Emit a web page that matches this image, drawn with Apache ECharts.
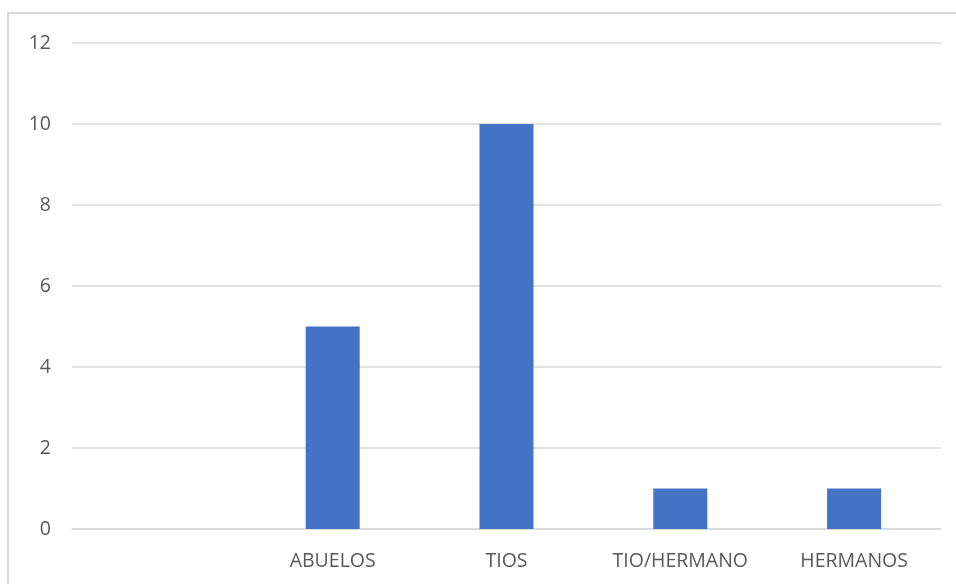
<!DOCTYPE html>
<html>
<head>
<meta charset="utf-8">
<script src="https://cdn.jsdelivr.net/npm/echarts@6/dist/echarts.min.js"></script>
<style>html,body{margin:0;padding:0;background:#fff}#c{width:956px;height:584px}</style>
</head>
<body>
<div id="c"></div>
<script>
const categories = ['', 'ABUELOS', 'TIOS', 'TIO/HERMANO', 'HERMANOS'];
const values = [null, 5, 10, 1, 1];
const yTicks = [0, 2, 4, 6, 8, 10, 12];

const chart = echarts.init(document.getElementById('c'));
chart.setOption({
  animation: false,
  backgroundColor: '#ffffff',
  graphic: [{
    type: 'rect',
    shape: { x: 8, y: 13, width: 960, height: 600 },
    style: { fill: 'none', stroke: '#d9d9d9', lineWidth: 2 },
    silent: true
  }],
  grid: { left: 72, right: 15, top: 43, bottom: 55, containLabel: false },
  xAxis: {
    type: 'category',
    data: categories,
    axisTick: { show: false },
    axisLine: { lineStyle: { color: '#d9d9d9', width: 1.5 } },
    axisLabel: { interval: 0, hideOverlap: false, color: '#595959', fontSize: 19.5, fontFamily: 'Open Sans', margin: 22 }
  },
  yAxis: {
    type: 'value',
    min: yTicks[0],
    max: yTicks[yTicks.length - 1],
    interval: 2,
    axisLine: { show: false },
    axisTick: { show: false },
    splitLine: { lineStyle: { color: '#d9d9d9', width: 1.5 } },
    axisLabel: { color: '#595959', fontSize: 19.5, fontFamily: 'Open Sans', margin: 21 }
  },
  series: [{
    type: 'bar',
    data: values,
    barWidth: 54,
    itemStyle: { color: '#4472c4' }
  }]
});
</script>
</body>
</html>
